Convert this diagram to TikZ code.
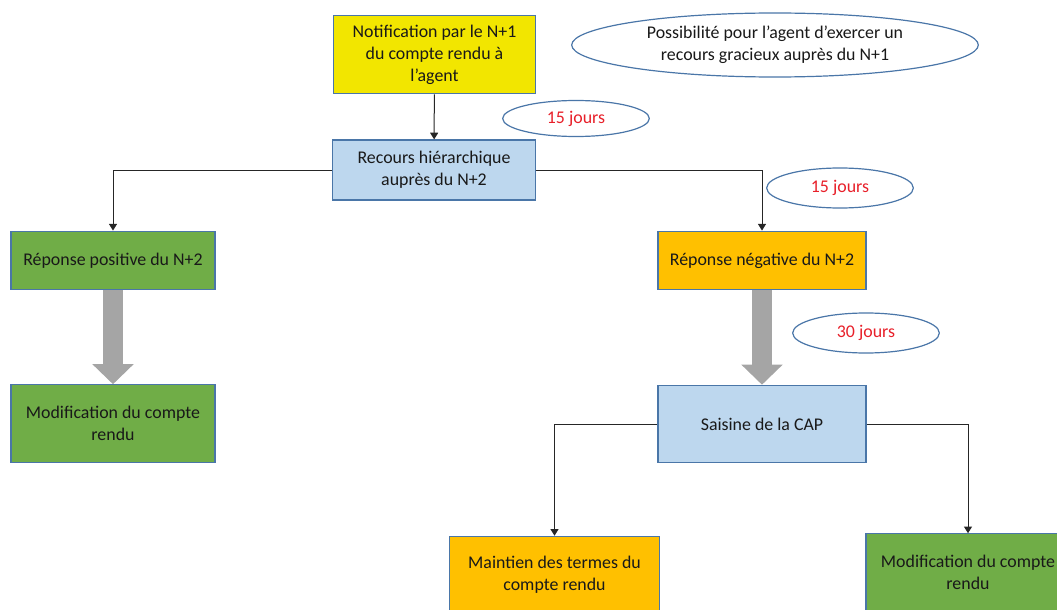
\documentclass[tikz,border=0pt]{standalone}
\usepackage{fontspec}
\setmainfont{Carlito}
\usepackage{tikz}
\usepackage[dvipsnames]{xcolor}
\usetikzlibrary{arrows.meta,shapes.geometric,positioning}

\definecolor{boxedge}{HTML}{4A76A8}
\definecolor{jaune}{HTML}{F2E600}
\definecolor{bleu}{HTML}{BDD7EE}
\definecolor{vert}{HTML}{70AD47}
\definecolor{orange}{HTML}{FFC000}
\definecolor{gris}{HTML}{A5A5A5}
\definecolor{rouge}{HTML}{E8202A}

\begin{document}
\begin{tikzpicture}[x=0.75pt,y=-0.75pt]

% styles for the boxes and arrows
\tikzstyle{box}=[draw=boxedge,line width=0.9pt,align=center,inner sep=2pt,
  text=black!90,font=\fontsize{13.4}{16.5}\selectfont]
\tikzstyle{delai}=[ellipse,draw=boxedge,line width=0.9pt,fill=white,inner sep=0pt,
  align=center,text=rouge,font=\fontsize{13.4}{16.5}\selectfont]
\tikzstyle{conn}=[draw=black!85,line width=0.75pt,-{Triangle[width=6pt,length=5pt]}]
\tikzstyle{bigarrow}=[draw=gris,line width=15pt,-{Triangle[width=30pt,length=15pt]}]

\useasboundingbox (0,0) rectangle (1057,610);

%%% BOXES %%%
\node[box,fill=jaune,minimum width=152pt,minimum height=59pt] (notif) at (434.5,54.5)
  {Notification par le N+1\\du compte rendu à\\l’agent};
\node[box,fill=bleu,minimum width=152pt,minimum height=45pt] (recours) at (434,170)
  {Recours hiérarchique\\auprès du N+2};
\node[box,fill=vert,minimum width=153pt,minimum height=44pt] (positive) at (113,260.5)
  {Réponse positive du N+2};
\node[box,fill=vert,minimum width=153pt,minimum height=58pt] (modifG) at (113,423.5)
  {Modification du compte\\rendu};
\node[box,fill=orange,minimum width=156pt,minimum height=44pt] (negative) at (762,260.5)
  {Réponse négative du N+2};
\node[box,fill=bleu,minimum width=156pt,minimum height=58pt] (cap) at (762,424)
  {Saisine de la CAP};
\node[box,fill=orange,minimum width=157pt,minimum height=58pt] (maintien) at (554.5,575)
  {Maintien des termes du\\compte rendu};
\node[box,fill=vert,minimum width=153pt,minimum height=58pt] (modifD) at (968,572.5)
  {Modification du compte\\rendu};

%%% DELAIS %%%
\node[delai,minimum width=305pt,minimum height=48pt,text=black!90] (gracieux) at (775,45)
  {Possibilité pour l’agent d’exercer un\\recours gracieux auprès du N+1};
\node[delai,minimum width=110pt,minimum height=27pt] (delai1) at (576,118.5) {15 jours};
\node[delai,minimum width=110pt,minimum height=30pt] (delai2) at (840,188) {15 jours};
\node[delai,minimum width=110pt,minimum height=30pt] (delai3) at (866,333) {30 jours};

%%% CONNECTORS %%%
\draw[conn] (notif) -- (recours);
\draw[conn] (recours.west) -| (positive.north);
\draw[conn] (recours.east) -| (negative.north);
\draw[conn] (cap.west) -| (maintien.north);
\draw[conn] (cap.east) -| (modifD.north);

%%% BIG GREY ARROWS %%%
\draw[bigarrow] (positive.south) -- (modifG.north);
\draw[bigarrow] (negative.south) -- (cap.north);

\end{tikzpicture}
\end{document}
